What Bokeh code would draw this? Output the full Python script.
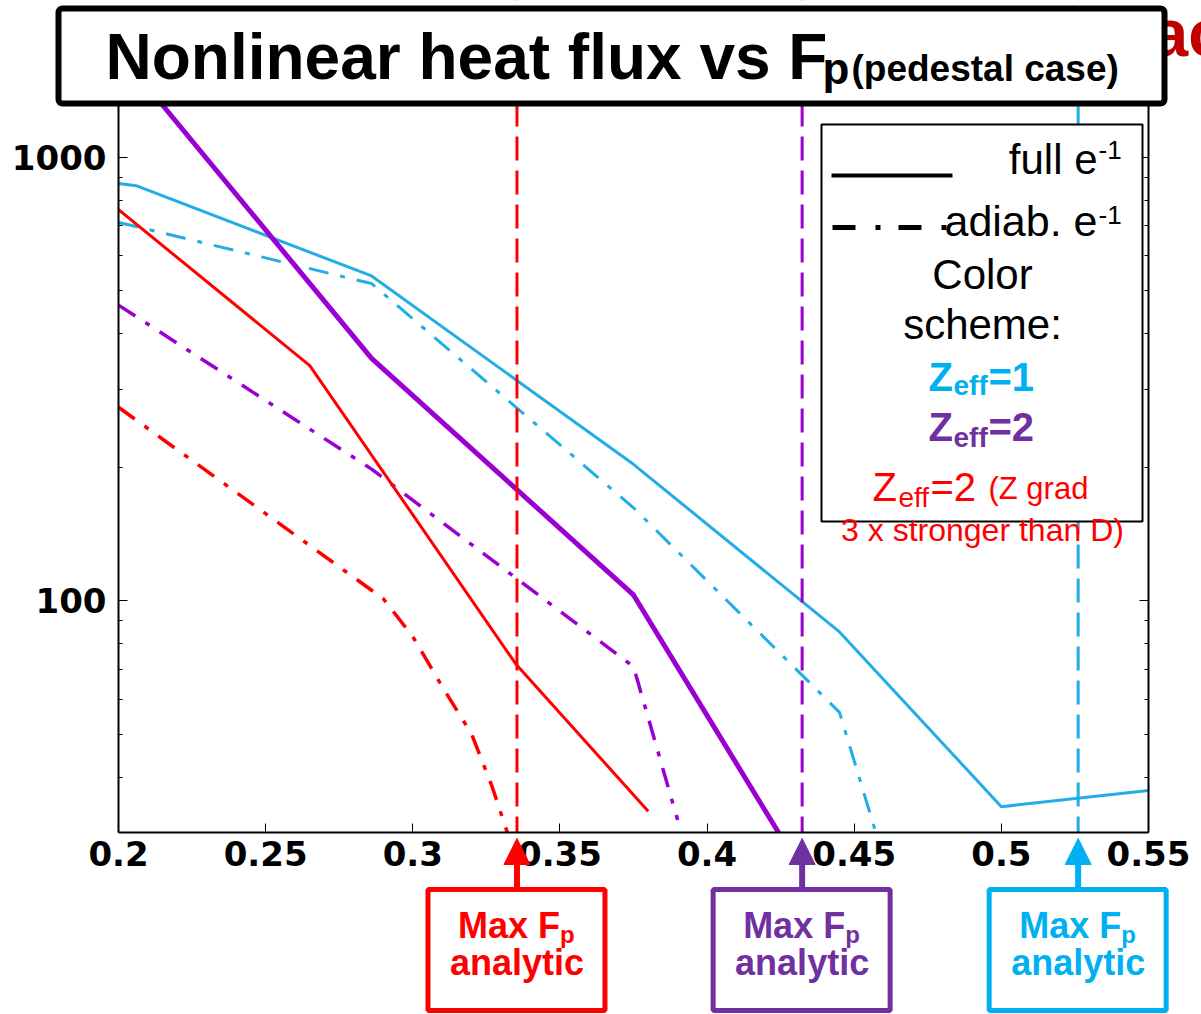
import math

from bokeh.plotting import figure
from bokeh.models import (Span, Label, BoxAnnotation, Arrow, NormalHead, LogAxis,
                          LinearAxis, FixedTicker, Range1d)
from bokeh.embed import file_html
from bokeh.resources import INLINE

# ---- data: nonlinear heat flux vs F_p (pedestal case) ----
# Z_eff = 1
fp_z1_full = [0.2, 0.206, 0.286, 0.375, 0.445, 0.5, 0.55]
q_z1_full = [873, 863, 540, 203, 85, 34.3, 37.3]
fp_z1_adiab = [0.2, 0.206, 0.286, 0.375, 0.445, 0.458]
q_z1_adiab = [713, 698, 519, 162, 56, 29]
# Z_eff = 2
fp_z2_full = [0.2, 0.286, 0.375, 0.43]
q_z2_full = [1730, 352, 103, 26]
fp_z2_adiab = [0.2, 0.286, 0.375, 0.39]
q_z2_adiab = [464, 198, 71, 32]
# Z_eff = 2, Z gradient 3x stronger than D
fp_zg_full = [0.2, 0.265, 0.335, 0.38]
q_zg_full = [762, 339, 72, 33.5]
fp_zg_adiab = [0.2, 0.29, 0.30, 0.31, 0.32, 0.327, 0.334]
q_zg_adiab = [273, 101, 83, 64, 50, 38, 27.5]
# analytic maximum F_p for each case (red, purple, blue)
fp_max_analytic = [0.3354, 0.4323, 0.5261]

x_ticks = [0.2, 0.25, 0.3, 0.35, 0.4, 0.45, 0.5, 0.55]
x_tick_labels = ["0.2", "0.25", "0.3", "0.35", "0.4", "0.45", "0.5", "0.55"]
y_ticks = [100, 1000]
y_tick_labels = ["100", "1000"]
y_minor = [40, 50, 60, 70, 80, 90, 200, 300, 400, 500, 600, 700, 800, 900]

BLUE = "#22ade6"
PURPLE = "#9b00d3"
RED = "#ff0000"
BLUE_TXT = "#00b0f0"
PURPLE_TXT = "#7030a0"
FONT = "Liberation Sans"

# canvas size and where the axes box sits inside it (pixels)
W, H = 1201, 1014
L, R, T, B = 118, 1148, 92, 832
X0, X1 = 0.2, 0.55
Y0, Y1 = 30, 1400

# the frame fills the whole canvas; the axes box is placed by the ranges
kx = (R - L) / (X1 - X0)
ky = (B - T) / math.log10(Y1 / Y0)
x_range = Range1d(X0 - L / kx, X1 + (W - R) / kx)
y_range = Range1d(Y0 / 10 ** ((H - B) / ky), Y1 * 10 ** (T / ky))


def sx(cx):
    return cx


def sy(cy):
    return H - cy


def to_px(v):
    return L + (v - X0) * kx


p = figure(width=W, height=H, x_range=x_range, y_range=y_range,
           y_axis_type="log", x_axis_location=None, y_axis_location=None,
           output_backend="svg", toolbar_location=None, min_border=0)
p.grid.visible = False
p.background_fill_color = "white"
p.border_fill_color = "white"
p.outline_line_color = None

DASHDOT = "20 12 5 12"
p.line(fp_z1_full, q_z1_full, line_color=BLUE, line_width=3)
p.line(fp_z1_adiab, q_z1_adiab, line_color=BLUE, line_width=3, line_dash=DASHDOT)
p.line(fp_z2_full, q_z2_full, line_color=PURPLE, line_width=5)
p.line(fp_z2_adiab, q_z2_adiab, line_color=PURPLE, line_width=3.5, line_dash=DASHDOT)
p.line(fp_zg_full, q_zg_full, line_color=RED, line_width=3)
p.line(fp_zg_adiab, q_zg_adiab, line_color=RED, line_width=3.5, line_dash=DASHDOT)

case_colors = [RED, PURPLE, BLUE]
box_colors = [RED, PURPLE_TXT, BLUE_TXT]
for xv, col in zip(fp_max_analytic, case_colors):
    p.add_layout(Span(location=xv, dimension="height", line_color=col,
                      line_width=3, line_dash="24 10", level="glyph"))


def box(l, r, t, b, color, width, radius=0, fill="white", level="annotation"):
    p.add_layout(BoxAnnotation(left=sx(l), right=sx(r), top=sy(t), bottom=sy(b),
                               left_units="screen", right_units="screen",
                               top_units="screen", bottom_units="screen",
                               fill_color=fill, fill_alpha=1.0,
                               line_color=color, line_width=width,
                               line_alpha=1.0, border_radius=radius, level=level))


# blank out everything drawn above and below the axes box
box(-5, W + 5, -5, T, None, 0, level="glyph")
box(-5, W + 5, B, H + 5, None, 0, level="glyph")

# axes along the edges of the box
xax = LinearAxis(fixed_location=Y0, bounds=(X0, X1),
                 ticker=FixedTicker(ticks=x_ticks, minor_ticks=[]),
                 major_label_overrides=dict(zip(x_ticks, x_tick_labels)))
yax = LogAxis(fixed_location=X0, bounds=(Y0, Y1),
              ticker=FixedTicker(ticks=y_ticks, minor_ticks=y_minor),
              major_label_overrides=dict(zip(y_ticks, y_tick_labels)))
rax = LogAxis(fixed_location=X1, bounds=(Y0, Y1),
              ticker=FixedTicker(ticks=y_ticks, minor_ticks=y_minor),
              major_label_overrides={t: "" for t in y_ticks})
for ax in (xax, yax, rax):
    ax.axis_line_width = 2
    ax.axis_line_color = "black"
    ax.major_tick_line_color = "black"
    ax.minor_tick_line_color = "black"
    ax.major_tick_in = 9
    ax.major_tick_out = 0
    ax.minor_tick_in = 4
    ax.minor_tick_out = 0
    ax.major_label_text_font = "DejaVu Sans"
    ax.major_label_text_font_style = "bold"
    ax.major_label_text_font_size = "34px"
    ax.major_label_text_color = "black"
yax.major_label_standoff = 12
xax.major_label_standoff = 8
p.add_layout(xax, "below")
p.add_layout(yax, "left")
p.add_layout(rax, "right")


def label(text, cx, cy, size, color="black", bold=False, align="left"):
    # cy is the wanted baseline; shift the anchor up to land the glyphs there
    base = cy - (6 + 0.25 * size)
    p.add_layout(Label(x=sx(cx), y=sy(base), x_units="screen", y_units="screen",
                       text=text, text_font=FONT, text_font_size=f"{size}px",
                       text_font_style="bold" if bold else "normal",
                       text_color=color, text_align=align,
                       text_baseline="alphabetic"))


def seg(x0, y0, x1, y1, color, width, dash="solid", head=None):
    p.add_layout(Arrow(x_start=sx(x0), y_start=sy(y0), x_end=sx(x1), y_end=sy(y1),
                       start_units="screen", end_units="screen", start=None,
                       end=head, line_color=color, line_width=width, line_dash=dash))


# legend panel
box(821, 1142, 124, 521, "black", 2)
seg(831, 175, 952, 175, "black", 4)
seg(832, 227, 947, 227, "black", 5, dash="23 20 5 18")
label("full e", 1097, 175, 42, align="right")
label("-1", 1098, 162, 26)
label("adiab. e", 1097, 237, 43, align="right")
label("-1", 1098, 227, 26)
label("Color", 982, 290, 42, align="center")
label("scheme:", 982, 340, 42, align="center")
label("Z", 928, 392, 40, BLUE_TXT, bold=True)
label("eff", 953, 398, 28, BLUE_TXT, bold=True)
label("=1", 988, 392, 40, BLUE_TXT, bold=True)
label("Z", 928, 442, 40, PURPLE_TXT, bold=True)
label("eff", 953, 450, 28, PURPLE_TXT, bold=True)
label("=2", 988, 442, 40, PURPLE_TXT, bold=True)
label("Z", 872, 502, 40, RED)
label("eff", 898, 510, 28, RED)
label("=2", 930, 502, 40, RED)
label("(Z grad", 988, 502, 31, RED)
label("3 x stronger than D)", 982, 543, 32, RED, align="center")

# slide heading peeking out behind the title box
label("ac", 1151, 55, 66, "#c00000", bold=True)

# title box
box(58, 1164, 8, 103, "black", 6, radius=4)
label("Nonlinear heat flux vs F", 105, 78, 64, bold=True)
label("p", 822, 85, 44, bold=True)
label("(pedestal case)", 851, 83, 37, bold=True)

# analytic maximum markers below the axis
for xv, col in zip(fp_max_analytic, box_colors):
    c = to_px(xv)
    seg(c, 888, c, 838, col, 6,
        head=NormalHead(size=26, fill_color=col, line_color=col, line_width=1))
    box(c - 89, c + 88, 889, 1010, col, 5)
    label("Max F", c - 59, 940, 36, col, bold=True)
    label("p", c + 43, 946, 24, col, bold=True)
    label("analytic", c, 977, 36, col, bold=True, align="center")

open("out.html", "w").write(file_html(p, INLINE))
